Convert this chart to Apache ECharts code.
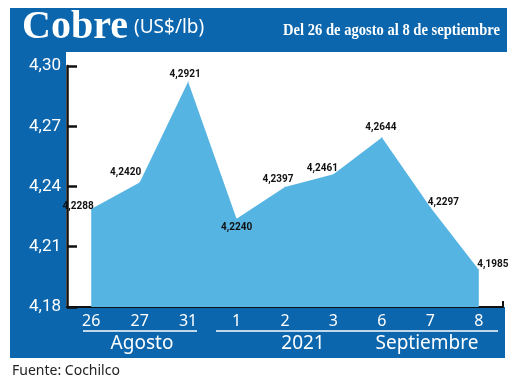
<!DOCTYPE html>
<html><head><meta charset="utf-8">
<script src="https://cdn.jsdelivr.net/npm/echarts@6/dist/echarts.min.js"></script>
<style>html,body{margin:0;padding:0;background:#fff}#c{width:520px;height:385px}</style>
</head><body><div id="c"></div>
<script>
const categories = ['26','27','31','1','2','3','6','7','8'];
const values = [4.2288, 4.2420, 4.2921, 4.2240, 4.2397, 4.2461, 4.2644, 4.2297, 4.1985];
const yTicks = [4.18, 4.21, 4.24, 4.27, 4.30];
const groupLabels = ['Agosto', '2021', 'Septiembre'];

const BLUE = '#0b66ad';
const AREA = '#56b4e3';
const fmt4 = v => v.toFixed(4).replace('.', ',');
const labelFont = "'Liberation Sans Narrow','Roboto',sans-serif";

// label placement per point (style only)
const labelPos = [
  {position:'left', offset:[8,-2]},
  {position:'top', offset:[-14,1]},
  {position:'top', offset:[-3,3]},
  {position:'bottom', offset:[0,-2]},
  {position:'top', offset:[-7,3]},
  {position:'top', offset:[-11,5]},
  {position:'top', offset:[-1,1]},
  {position:'right', offset:[-8,-5]},
  {position:'right', offset:[-7,-5]}
];

const chart = echarts.init(document.getElementById('c'), null, {renderer:'canvas'});
chart.setOption({
  animation:false,
  backgroundColor:'#fff',
  grid:{left:67, right:17, top:66, bottom:78},
  xAxis:{
    type:'category', data:categories, boundaryGap:true,
    axisLine:{lineStyle:{color:'#111', width:2}},
    axisTick:{show:false},
    axisLabel:{color:'#fff', fontSize:16, fontFamily:'Noto Sans', margin:6}
  },
  yAxis:{
    type:'value', min:yTicks[0], max:yTicks[yTicks.length-1], interval:0.03,
    splitLine:{show:false},
    axisLine:{show:true, lineStyle:{color:'#111', width:2.5}},
    axisTick:{show:true, inside:true, length:10, lineStyle:{color:'#111', width:2.5}},
    axisLabel:{color:'#fff', fontSize:17, fontFamily:'Roboto', margin:6,
      formatter: v => v.toFixed(2).replace('.', ',')}
  },
  series:[{
    type:'line', z:5,
    data: values.map((v,i)=>({value:v, label:labelPos[i]})),
    symbol:'circle', symbolSize:1, showSymbol:true, showAllSymbol:true,
    itemStyle:{color:AREA},
    lineStyle:{width:0, color:AREA},
    areaStyle:{color:AREA, opacity:1, origin:'start'},
    label:{show:true, color:'#111', fontSize:10, fontWeight:'bold', fontFamily:labelFont,
      formatter: p => fmt4(p.value)}
  }],
  graphic:{elements:[
    {type:'rect', z:-10, shape:{x:10,y:8,width:497,height:44}, style:{fill:BLUE}},
    {type:'rect', z:-10, shape:{x:10,y:8,width:56,height:350}, style:{fill:BLUE}},
    {type:'rect', z:-10, shape:{x:10,y:307,width:495,height:51}, style:{fill:BLUE}},
    {type:'text', left:22, top:8, style:{text:'Cobre', fill:'#fff', font:"bold 40px 'Liberation Serif'"}},
    {type:'text', left:134, top:18, style:{text:'(US$/lb)', fill:'#fff', font:"19px 'Noto Sans'"}},
    {type:'text', x:500, y:31, scaleX:0.91, originX:0, originY:0, style:{text:'Del 26 de agosto al 8 de septiembre', fill:'#fff', font:"bold 16px 'Liberation Serif'", textAlign:'right', textVerticalAlign:'middle'}},
    {type:'line', shape:{x1:83,y1:331,x2:197,y2:331}, style:{stroke:'#fff', lineWidth:1.5}},
    {type:'line', shape:{x1:216,y1:331,x2:498,y2:331}, style:{stroke:'#fff', lineWidth:1.5}},
    {type:'text', x:142, y:344, style:{text:groupLabels[0], fill:'#fff', font:"19px 'Noto Sans'", textAlign:'center', textVerticalAlign:'middle'}},
    {type:'text', x:303, y:344, style:{text:groupLabels[1], fill:'#fff', font:"19px 'Noto Sans'", textAlign:'center', textVerticalAlign:'middle'}},
    {type:'text', x:427, y:344, style:{text:groupLabels[2], fill:'#fff', font:"19px 'Noto Sans'", textAlign:'center', textVerticalAlign:'middle'}},
    {type:'line', z:10, shape:{x1:503,y1:301,x2:503,y2:307}, style:{stroke:'#111', lineWidth:2}},
    {type:'text', left:12, top:364, style:{text:'Fuente: Cochilco', fill:'#222', font:"14px 'Noto Sans'"}}
  ]}
});
</script></body></html>
